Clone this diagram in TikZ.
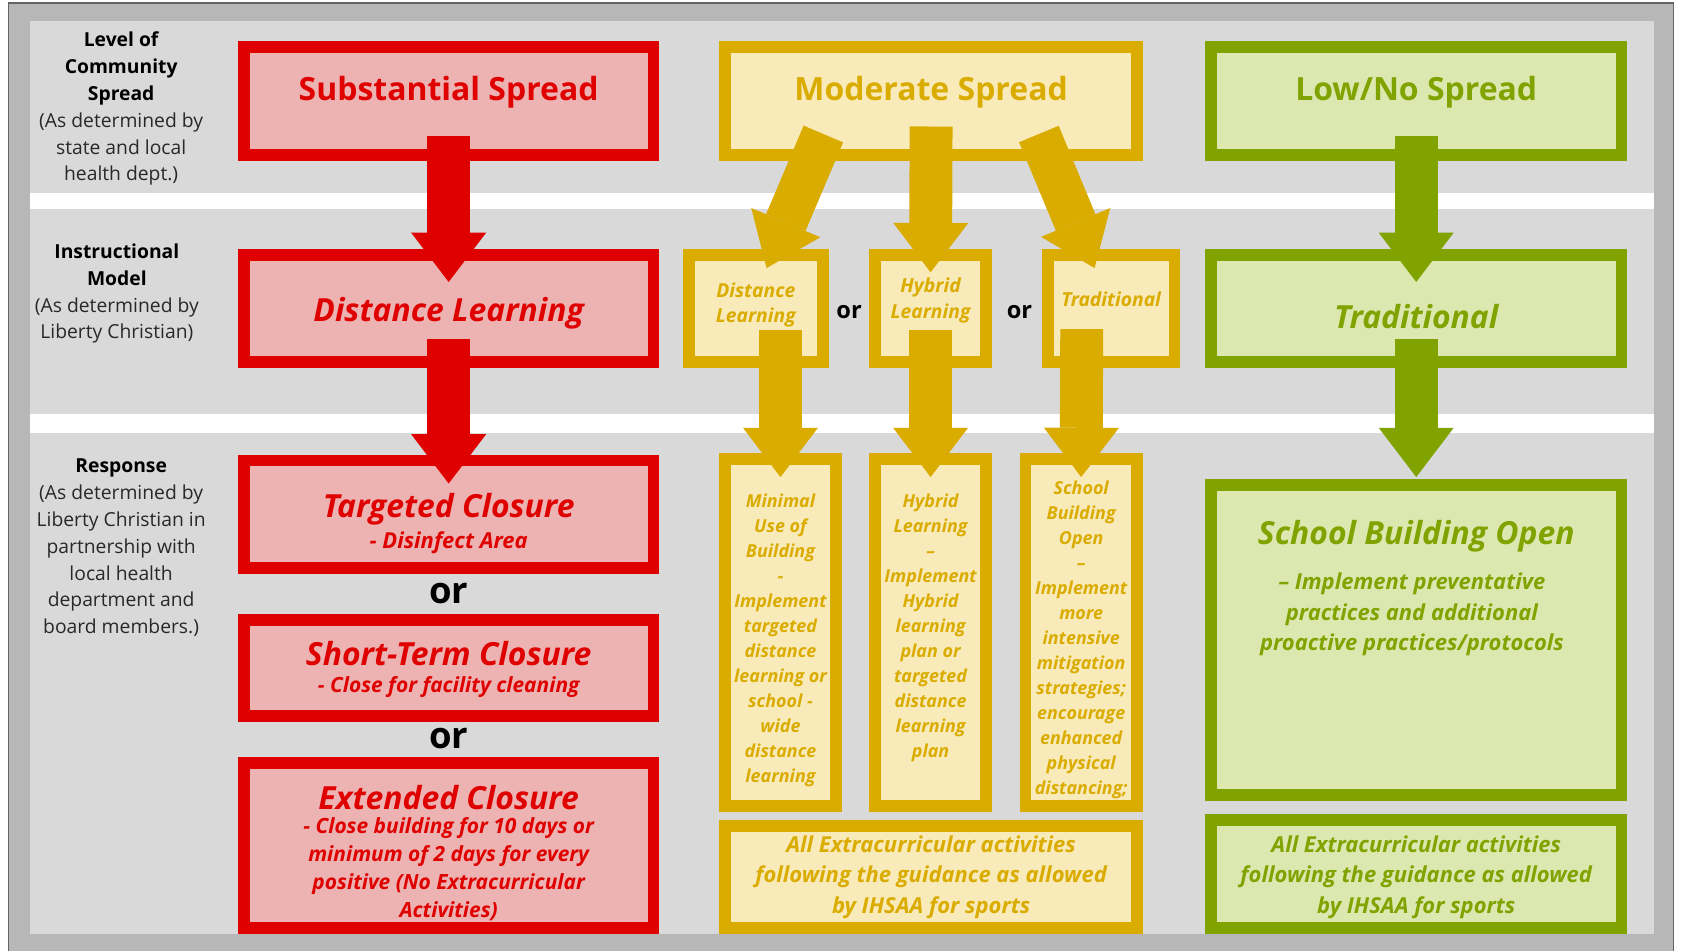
\documentclass[tikz,border=0pt]{standalone}
\usepackage{fontspec}
\setmainfont{Open Sans}
\usetikzlibrary{arrows.meta}
\definecolor{rline}{RGB}{223,0,0}
\definecolor{rfill}{RGB}{237,178,178}
\definecolor{yline}{RGB}{218,172,0}
\definecolor{yfill}{RGB}{249,234,186}
\definecolor{gline}{RGB}{128,163,0}
\definecolor{gfill}{RGB}{221,232,176}
\definecolor{bggray}{RGB}{217,217,217}
\definecolor{framegray}{RGB}{183,183,183}
\definecolor{frameline}{RGB}{100,100,100}
\definecolor{labtext}{RGB}{40,40,40}
\newcommand\fsz[2]{\fontsize{#1}{#2}\selectfont}
\begin{document}
\begin{tikzpicture}[x=1pt,y=-1pt,
  basebox/.style={rectangle,line width=11pt,outer sep=0pt,inner sep=0pt},
  rbox/.style={basebox,draw=rline,fill=rfill},
  ybox/.style={basebox,draw=yline,fill=yfill},
  gbox/.style={basebox,draw=gline,fill=gfill},
  blk/.style={line width=40pt,draw=#1,-{Triangle[width=70pt,length=46pt,line width=0pt]}},
  txt/.style={inner sep=0pt,outer sep=0pt,align=center},
  lab/.style={txt,text=labtext,font=\fsz{18}{25}},
  bigt/.style={txt,font=\fsz{29.8}{34}\bfseries},
  bigi/.style={txt,font=\fsz{29.7}{34}\bfseries\itshape},
  midi/.style={txt,font=\fsz{19.5}{26}\bfseries\itshape},
  smalli/.style={txt,text=yline,font=\fsz{16.7}{23.3}\bfseries\itshape},
  ortxt/.style={txt,font=\fsz{34}{40}\bfseries},
  ]
\useasboundingbox (0,0) rectangle (1568,887);
% background
\fill[white] (0,0) rectangle (1568,887);
\filldraw[fill=framegray,draw=frameline,line width=1.5pt] (8,3) rectangle (1561,905);
\fill[bggray] (28,20) rectangle (1543,871);
\fill[white] (28,180) rectangle (1543,195);
\fill[white] (28,386) rectangle (1543,404);

% left labels
\node[lab] (lev) at (113,101.5) {\textbf{\color{black}Level of}\\\textbf{\color{black}Community}\\\textbf{\color{black}Spread}\\(As determined by\\state and local\\health dept.)};
\node[lab] (ins) at (109,274) {\textbf{\color{black}Instructional}\\\textbf{\color{black}Model}\\(As determined by\\Liberty Christian)};
\node[lab] (res) at (113,511) {\textbf{\color{black}Response}\\(As determined by\\Liberty Christian in\\partnership with\\local health\\department and\\board members.)};

% red column boxes
\node[rbox,minimum width=382pt,minimum height=101pt] (ss) at (418.5,94) {};
\node[rbox,minimum width=382pt,minimum height=100pt] (rdl) at (418.5,287.5) {};
\node[rbox,minimum width=382pt,minimum height=100pt] (tc) at (418.5,479.5) {};
\node[rbox,minimum width=382pt,minimum height=89pt] (stc) at (418.5,623) {};
\node[rbox,minimum width=382pt,minimum height=154pt] (ec) at (418.5,788.5) {};

% yellow column boxes
\node[ybox,minimum width=384pt,minimum height=101pt] (ms) at (868.5,94) {};
\node[ybox,minimum width=125pt,minimum height=100pt] (ydl) at (705,287.5) {};
\node[ybox,minimum width=103pt,minimum height=100pt] (yhl) at (868,287.5) {};
\node[ybox,minimum width=118pt,minimum height=100pt] (ytr) at (1036.5,287.5) {};
\node[ybox,minimum width=103pt,minimum height=323pt] (ya) at (728,590) {};
\node[ybox,minimum width=103pt,minimum height=323pt] (yb) at (868,590) {};
\node[ybox,minimum width=104pt,minimum height=323pt] (yc) at (1008.5,590) {};
\node[ybox,minimum width=384pt,minimum height=95pt] (yx) at (868.5,818) {};

% green column boxes
\node[gbox,minimum width=383pt,minimum height=101pt] (ls) at (1321,94) {};
\node[gbox,minimum width=383pt,minimum height=100pt] (gtr) at (1321,287.5) {};
\node[gbox,minimum width=383pt,minimum height=289pt] (gsb) at (1321,597) {};
\node[gbox,minimum width=383pt,minimum height=101pt] (gx) at (1321,815) {};

% arrows
\draw[blk=rline] ([yshift=17.5pt]ss.south) -- ([yshift=-25.5pt]rdl.north);
\draw[blk=rline] ([yshift=21.5pt]rdl.south) -- ([yshift=-21.5pt]tc.north);
\draw[blk=gline] ([yshift=17.5pt]ls.south) -- ([yshift=-25.5pt]gtr.north);
\draw[blk=gline] ([yshift=21.5pt]gtr.south) -- ([yshift=7.5pt]gsb.north);
\draw[blk=yline] ([yshift=26.5pt]ms.south) -- ([yshift=-16.5pt]yhl.north);
\draw[blk=yline] ([xshift=-100.5pt,yshift=19.5pt]ms.south) -- ([xshift=10pt,yshift=-12.5pt]ydl.north);
\draw[blk=yline] ([xshift=100.5pt,yshift=19.5pt]ms.south) -- ([xshift=-15.5pt,yshift=-12.5pt]ytr.north);
\draw[blk=yline] ([xshift=23pt,yshift=29.5pt]ydl.south) -- ([yshift=-16.5pt]ya.north);
\draw[blk=yline] ([yshift=29.5pt]yhl.south) -- ([yshift=-16.5pt]yb.north);
\draw[blk=yline] ([xshift=-27.5pt,yshift=30.5pt]ytr.south) -- ([yshift=-16.5pt]yc.north);

% red texts
\node[bigt,text=rline] (tss) at (418.5,86) {Substantial Spread};
\node[bigi,text=rline] (trdl) at (418.5,292) {Distance Learning};
\node[bigi,text=rline] (ttc) at (418.5,475) {Targeted Closure};
\node[midi,text=rline,font=\fsz{20.5}{26}\bfseries\itshape] (ttc2) at (418.5,506) {- Disinfect Area};
\node[ortxt] (or1) at (418.5,554) {or};
\node[bigi,text=rline] (tstc) at (418.5,610) {Short-Term Closure};
\node[midi,text=rline] (tstc2) at (418.5,641) {- Close for facility cleaning};
\node[ortxt] (or2) at (418.5,689) {or};
\node[bigi,text=rline] (tec) at (418.5,744) {Extended Closure};
\node[midi,text=rline] (tec2) at (418.5,810.5) {- Close building for 10 days or\\minimum of 2 days for every\\positive (No Extracurricular\\Activities)};

% yellow texts
\node[bigt,text=yline] (tms) at (868.5,86) {Moderate Spread};
\node[txt,text=yline,font=\fsz{18}{24}\bfseries\itshape] (tydl) at (705,284.5) {Distance\\Learning};
\node[txt,text=yline,font=\fsz{18}{24}\bfseries\itshape] (tyhl) at (868,280.5) {Hybrid\\Learning};
\node[txt,text=yline,font=\fsz{18}{24}\bfseries\itshape] (tytr) at (1036.5,279) {Traditional};
\node[txt,font=\fsz{22}{26}\bfseries] (or3) at (792,291) {or};
\node[txt,font=\fsz{22}{26}\bfseries] (or4) at (951,291) {or};
\node[smalli] (tya) at (728,597.5) {Minimal\\Use of\\Building\\-\\Implement\\targeted\\distance\\learning or\\school -\\wide\\distance\\learning};
\node[smalli] (tyb) at (868,586) {Hybrid\\Learning\\–\\Implement\\Hybrid\\learning\\plan or\\targeted\\distance\\learning\\plan};
\node[smalli] (tyc) at (1008.5,597) {School\\Building\\Open\\–\\Implement\\more\\intensive\\mitigation\\strategies;\\encourage\\enhanced\\physical\\distancing;};
\node[txt,text=yline,font=\fsz{20.5}{28.5}\bfseries\itshape] (tyx) at (868.5,818) {All Extracurricular activities\\following the guidance as allowed\\by IHSAA for sports};

% green texts
\node[bigt,text=gline] (tls) at (1321,86) {Low/No Spread};
\node[bigi,text=gline] (tgtr) at (1321,295) {Traditional};
\node[bigi,text=gline] (tgsb) at (1321,500.5) {School Building Open};
\node[txt,text=gline,font=\fsz{20.5}{28}\bfseries\itshape] (tgsb2) at (1317,573) {– Implement preventative\\practices and additional\\proactive practices/protocols};
\node[txt,text=gline,font=\fsz{20.5}{28.5}\bfseries\itshape] (tgx) at (1321,818) {All Extracurricular activities\\following the guidance as allowed\\by IHSAA for sports};
\end{tikzpicture}
\end{document}
